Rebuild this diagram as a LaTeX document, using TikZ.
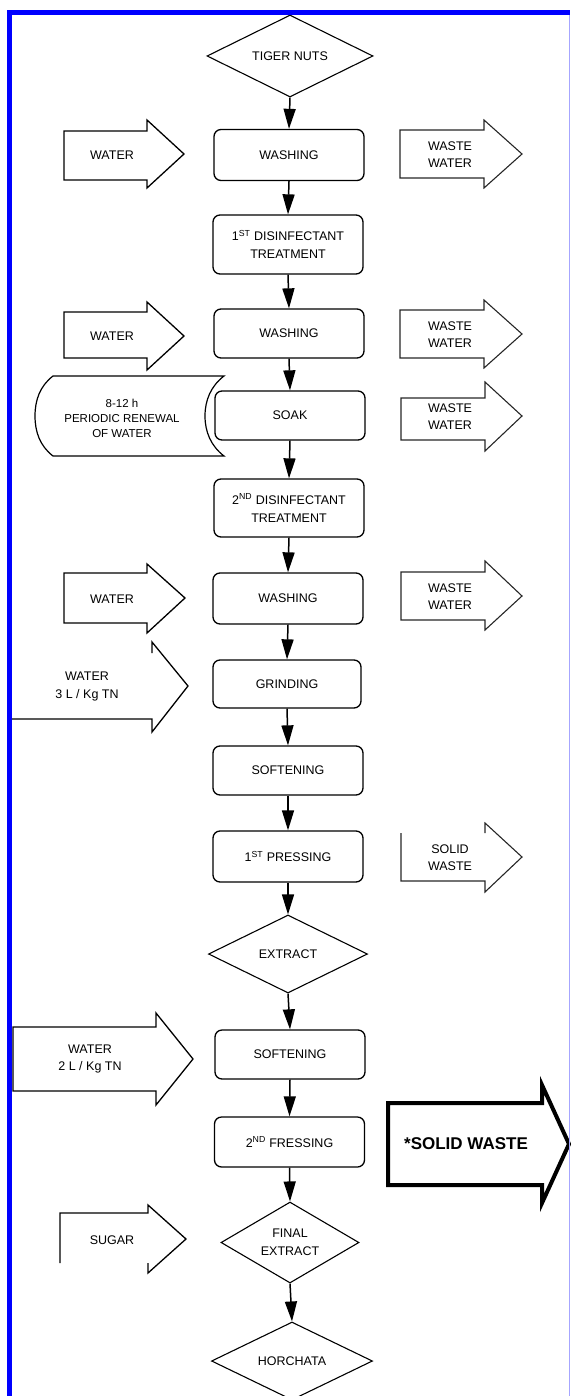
\documentclass[tikz,border=0pt]{standalone}
\usepackage{fontspec}
\setmainfont{Liberation Sans}
\usetikzlibrary{shapes.geometric,arrows.meta}

\begin{document}
\begin{tikzpicture}[x=1pt,y=1pt,yscale=-1,xscale=1,
  stepbox/.style={draw,line width=1.3pt,rounded corners=7pt,minimum width=150pt,minimum height=50pt,align=center,font=\fontsize{12.5}{18}\selectfont},
  choice/.style={draw,diamond,aspect=2,line width=1.1pt,inner sep=0pt,align=center,font=\fontsize{12.5}{18}\selectfont},
  arrowtext/.style={align=center,inner sep=1pt,font=\fontsize{12.5}{17.5}\selectfont},
  flow/.style={line width=1.5pt,-{Triangle[length=20pt,width=12pt]}},
  inflow/.style={line width=1.3pt,line join=miter},
  outflow/.style={line width=1.1pt,line join=miter,draw=black!85}]
\useasboundingbox (0,0) rectangle (570,1396);

%Shape: Diamond
\draw (290,56) node [choice,minimum width=166pt,minimum height=82pt] (tiger) {TIGER NUTS};
%Shape: Rectangle
\draw (289,155) node [stepbox,minimum height=51pt] (wash1) {WASHING};
\draw (288,244.5) node [stepbox,minimum height=59pt] (dis1) {1\textsuperscript{ST} DISINFECTANT\\TREATMENT};
\draw (289,333.5) node [stepbox,minimum height=49pt] (wash2) {WASHING};
\draw (290,415.5) node [stepbox,minimum height=49pt] (soak) {SOAK};
\draw (289,508) node [stepbox,minimum height=58pt] (dis2) {2\textsuperscript{ND} DISINFECTANT\\TREATMENT};
\draw (288,598.5) node [stepbox,minimum height=51pt] (wash3) {WASHING};
\draw (287,684) node [stepbox,minimum width=148pt,minimum height=48pt] (grind) {GRINDING};
\draw (288,770.5) node [stepbox,minimum height=49pt] (soft1) {SOFTENING};
\draw (288,856.5) node [stepbox,minimum height=51pt] (press1) {1\textsuperscript{ST} PRESSING};
%Shape: Diamond
\draw (288,954) node [choice,minimum width=159pt,minimum height=78pt] (extract) {EXTRACT};
%Shape: Rectangle
\draw (290,1054.5) node [stepbox,minimum height=49pt] (soft2) {SOFTENING};
\draw (289.5,1142) node [stepbox,minimum height=50pt] (press2) {2\textsuperscript{ND} FRESSING};
%Shape: Diamond
\draw (290,1242.5) node [choice,minimum width=138pt,minimum height=81pt] (final) {FINAL\\EXTRACT};
\draw (292,1361) node [choice,minimum width=161pt,minimum height=78pt] (horchata) {HORCHATA};

%Straight Lines
\draw [flow] (tiger.south) -- (wash1.north);
\draw [flow] (wash1.south) -- (dis1.north);
\draw [flow] (dis1.south) -- (wash2.north);
\draw [flow] (wash2.south) -- (soak.north);
\draw [flow] (soak.south) -- (dis2.north);
\draw [flow] (dis2.south) -- (wash3.north);
\draw [flow] (wash3.south) -- (grind.north);
\draw [flow] (grind.south) -- (soft1.north);
\draw [flow] (soft1.south) -- (press1.north);
\draw [flow] (press1.south) -- (extract.north);
\draw [flow] (extract.south) -- (soft2.north);
\draw [flow] (soft2.south) -- (press2.north);
\draw [flow] (press2.south) -- (final.north);
\draw [flow] (final.south) -- (horchata.north);

%Shape: Right Arrow
\draw [inflow] (64,131) -- (147,131) -- (147,120) -- (184,154) -- (147,188) -- (147,180) -- (64,180) -- cycle;
\draw [inflow] (64,312) -- (147,312) -- (147,302) -- (184,336) -- (147,370) -- (147,358) -- (64,358) -- cycle;
\draw [inflow] (64,573) -- (147,573) -- (147,564) -- (185,598) -- (147,633) -- (147,623) -- (64,623) -- cycle;
\draw [inflow] (152,653) -- (152,642) -- (188,686) -- (152,732) -- (152,719) -- (12,719);
\draw [inflow] (13,1027) -- (156,1027) -- (156,1013) -- (193,1059) -- (156,1105) -- (156,1091) -- (13,1091) -- cycle;
\draw [inflow] (60,1263) -- (60,1213) -- (148,1213) -- (148,1205) -- (186,1239) -- (148,1273) -- (148,1263);
\draw [outflow] (400,130) -- (484,130) -- (484,120) -- (522,154) -- (484,188) -- (484,178) -- (400,178) -- cycle;
\draw [outflow] (400,310) -- (484,310) -- (484,300) -- (522,334) -- (484,368) -- (484,358) -- (400,358) -- cycle;
\draw [outflow] (401,398) -- (485,398) -- (485,382) -- (522,416) -- (485,451) -- (485,440) -- (401,440) -- cycle;
\draw [outflow] (401,572) -- (485,572) -- (485,561) -- (522,596) -- (485,630) -- (485,620) -- (401,620) -- cycle;
\draw [outflow] (485,833) -- (485,823) -- (522,857) -- (485,892) -- (485,881) -- (401,881) -- (401,833);
\draw [line width=4pt,line join=miter] (388,1103) -- (542,1103) -- (542,1085) -- (569,1144) -- (542,1203) -- (542,1185) -- (388,1185) -- cycle;

%Shape: Stored Data
\draw [line width=1.2pt] (53,376) -- (224,376) .. controls (211,386) and (205,400) .. (205,416) .. controls (205,432) and (211,446) .. (224,456) -- (53,456) .. controls (40,446) and (35,432) .. (35,416) .. controls (35,400) and (40,386) .. (53,376) -- cycle;

% Text Node
\draw (112,155) node [arrowtext] (water1) {WATER};
\draw (450,154.5) node [arrowtext] (waste1) {WASTE\\WATER};
\draw (112,336) node [arrowtext] (water2) {WATER};
\draw (450,334.5) node [arrowtext] (waste2) {WASTE\\WATER};
\draw (122,418) node [arrowtext,font=\fontsize{11.5}{15}\selectfont] (renewal) {8-12 h\\PERIODIC RENEWAL\\OF WATER};
\draw (450,416.5) node [arrowtext] (waste3) {WASTE\\WATER};
\draw (112,599) node [arrowtext] (water3) {WATER};
\draw (450,596.5) node [arrowtext] (waste4) {WASTE\\WATER};
\draw (87,686.5) node [arrowtext] (water4) {WATER\\3 L / Kg TN};
\draw (450,857.5) node [arrowtext] (solid1) {SOLID\\WASTE};
\draw (90,1059) node [arrowtext] (water5) {WATER\\2 L / Kg TN};
\draw (466,1144) node [arrowtext,font=\fontsize{17}{20}\bfseries] (solid2) {*SOLID WASTE};
\draw (112,1240) node [arrowtext] (sugar) {SUGAR};

%Frame
\fill [blue] (7,10) rectangle (570,15);
\fill [blue] (7,10) rectangle (12,1396);
\draw [blue!35,line width=1pt] (569,15) -- (569,1396);
\end{tikzpicture}
\end{document}
